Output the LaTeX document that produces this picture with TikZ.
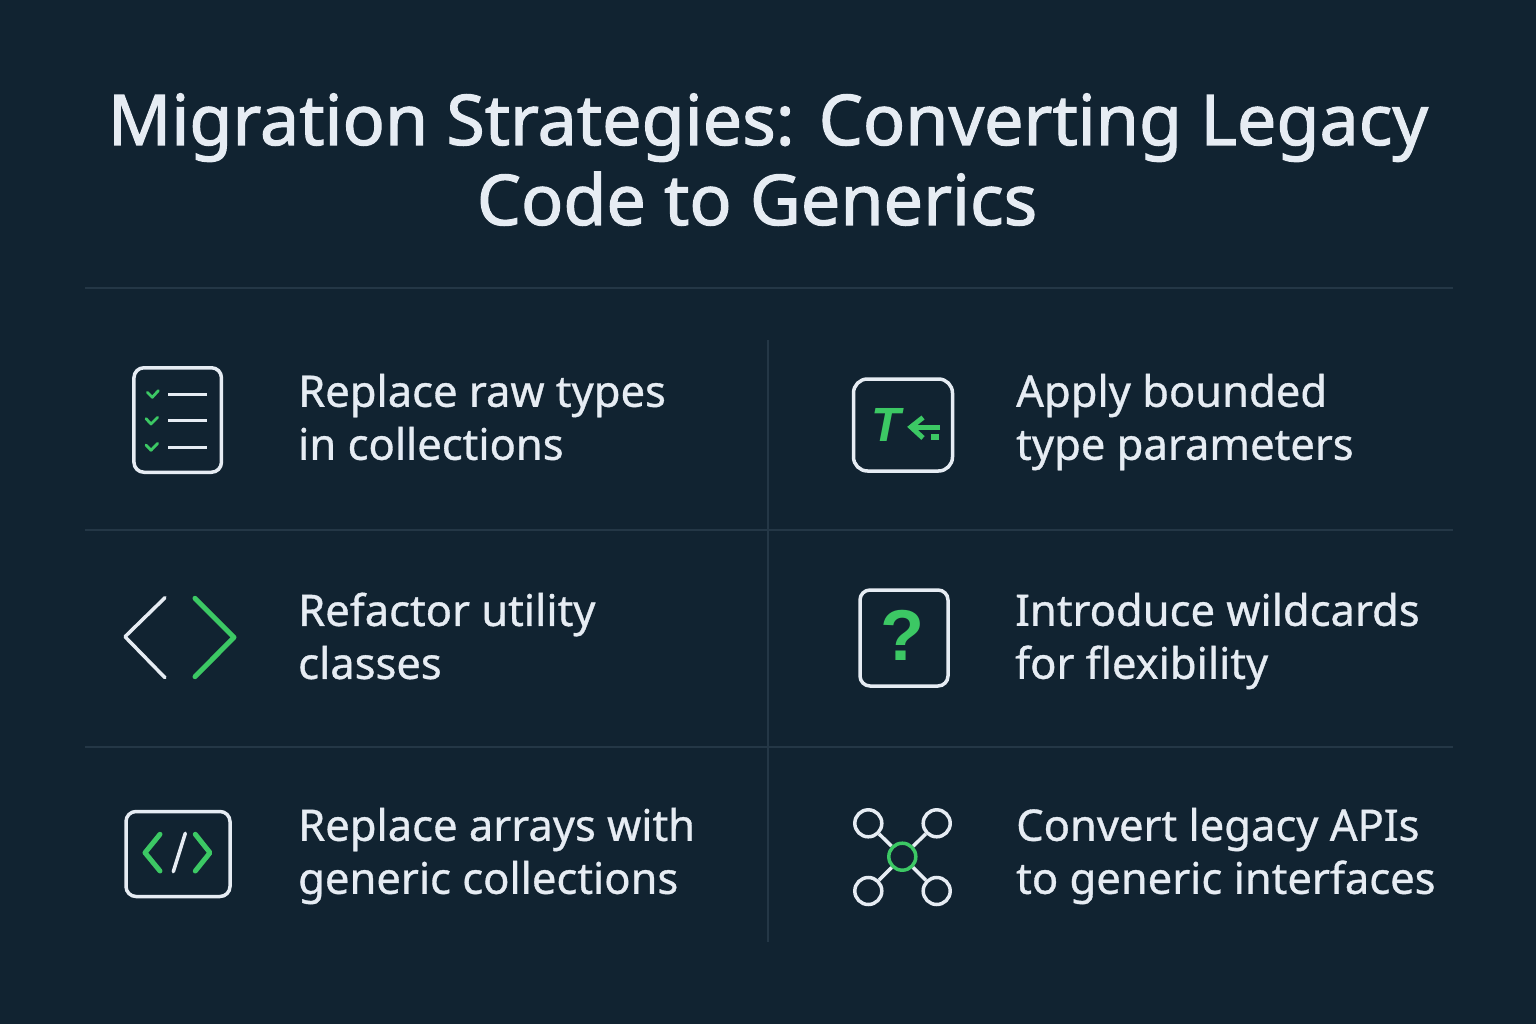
\documentclass[tikz,border=0pt]{standalone}
\usepackage{fontspec}
\setmainfont{Noto Sans}
\newfontfamily\titlefont[FakeBold=1.6]{Noto Sans}
\newfontfamily\labelfont[FakeBold=0.8]{Noto Sans}
\newfontfamily\glyphfont{Liberation Sans}
\newcommand{\twolines}[2]{\vphantom{Ap}#1\\\vphantom{Ap}#2}
\definecolor{bgdark}{HTML}{112331}
\definecolor{rulegray}{HTML}{243746}
\definecolor{inkwhite}{HTML}{E6ECF3}
\definecolor{leafgreen}{HTML}{3CC864}

\begin{document}
\begin{tikzpicture}[x=1pt, y=-1pt,
        title/.style = {text=inkwhite, anchor=base, inner sep=0pt, font=\titlefont\fontsize{70}{80}\selectfont},
        label/.style = {text=inkwhite, anchor=west, align=left, inner sep=0pt, font=\labelfont\fontsize{43.5}{53}\selectfont},
        divider/.style = {draw=rulegray, line width=2.5pt},
        iconbox/.style = {draw=inkwhite, line width=3.5pt, rounded corners=10pt, inner sep=0pt, outer sep=0pt},
        whiteline/.style = {draw=inkwhite, line width=3.5pt, line cap=round, line join=round},
        greenline/.style = {draw=leafgreen, line width=5pt, line cap=round, line join=round},
        hub/.style = {draw=inkwhite, circle, line width=3.5pt, minimum size=27pt, inner sep=0pt}]
    \fill[bgdark] (0,0) rectangle (1536,1024);
    \useasboundingbox (0,0) rectangle (1536,1024);

    % title
    \node[title] (title1) at (768,145) {Migration Strategies: Converting Legacy};
    \node[title] (title2) at (757,225) {Code to Generics};

    % grid
    \draw[divider] (85,288) -- (1453,288);
    \draw[divider] (85,530) -- (1453,530);
    \draw[divider] (85,747) -- (1453,747);
    \draw[divider] (768,340) -- (768,942);

    % labels
    \node[label] (raw) at (298,422) {\twolines{Replace raw types}{in collections}};
    \node[label] (utility) at (298,641) {\twolines{Refactor utility}{classes}};
    \node[label] (arrays) at (298,856) {\twolines{Replace arrays with}{generic collections}};
    \node[label] (bounded) at (1016,422) {\twolines{Apply bounded}{type parameters}};
    \node[label] (wild) at (1015,641) {\twolines{Introduce wildcards}{for flexibility}};
    \node[label] (apis) at (1016,856) {\twolines{Convert legacy APIs}{to generic interfaces}};

    % checklist
    \node[iconbox, minimum width=87.5pt, minimum height=104.5pt] (list) at (177.7,420) {};
    \draw[whiteline, line width=3pt, line cap=butt] (168,394) -- (207,394);
    \draw[whiteline, line width=3pt, line cap=butt] (168,420.5) -- (207,420.5);
    \draw[whiteline, line width=3pt, line cap=butt] (168,447) -- (207,447);
    \draw[greenline, line width=2.8pt] (147.3,392.3) -- (152.3,397.3) -- (158.3,390.7);
    \draw[greenline, line width=2.8pt] (146,418.6) -- (151,424) -- (157.7,417.3);
    \draw[greenline, line width=2.8pt] (146,445) -- (151,450.3) -- (157.7,443.3);

    % type parameter
    \node[iconbox, rounded corners=14pt, minimum width=99pt, minimum height=92pt] (tbox) at (903,425) {};
    \node[text=leafgreen, inner sep=0pt, font=\glyphfont\bfseries\itshape\fontsize{48}{48}\selectfont] (tee) at (886,425) {T};
    \draw[greenline, line cap=butt, line join=miter] (940,427) -- (912,427);
    \draw[greenline, line cap=butt, line join=miter] (923,417.5) -- (911,427) -- (923,438);
    \fill[leafgreen] (931,434) rectangle (938.5,440);

    % angle brackets
    \draw[whiteline] (165,597.7) -- (125,636.7) -- (165,677.7);
    \draw[greenline] (195,598.3) -- (234,637.3) -- (195,676.7);

    % wildcard
    \node[iconbox, minimum width=88pt, minimum height=96pt] (qbox) at (904,638) {};
    \node[text=leafgreen, inner sep=0pt, font=\glyphfont\bfseries\fontsize{72}{72}\selectfont] (qmark) at (902,635) {?};

    % code box
    \node[iconbox, minimum width=104pt, minimum height=85pt] (code) at (178,854) {};
    \draw[greenline] (160,834.3) -- (145,852.7) -- (160,871);
    \draw[greenline] (195.3,834.3) -- (210,852.7) -- (195.3,871);
    \draw[whiteline] (185.3,833.3) -- (173.3,871.7);

    % network
    \node[hub, draw=leafgreen] (centre) at (902.3,856.7) {};
    \node[hub] (tl) at (868.3,823.3) {};
    \node[hub] (tr) at (936.7,823.3) {};
    \node[hub] (bl) at (868.3,891) {};
    \node[hub] (br) at (936.7,891) {};
    \draw[draw=inkwhite, line width=3.5pt] (centre) -- (tl);
    \draw[draw=inkwhite, line width=3.5pt] (centre) -- (tr);
    \draw[draw=inkwhite, line width=3.5pt] (centre) -- (bl);
    \draw[draw=inkwhite, line width=3.5pt] (centre) -- (br);
\end{tikzpicture}
\end{document}
